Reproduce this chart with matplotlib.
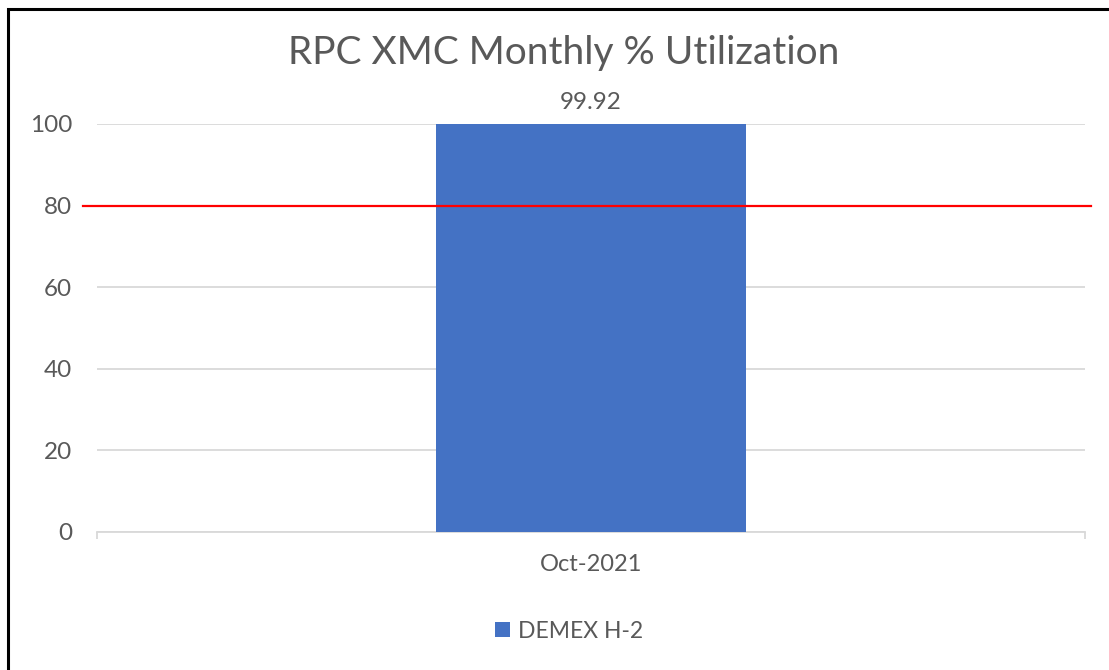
import matplotlib.pyplot as plt
from matplotlib.patches import Rectangle

# chart data
months = ["Oct-2021"]
utilization = [99.92]
series_name = "DEMEX H-2"
target = 80
y_ticks = [0, 20, 40, 60, 80, 100]

plt.rcParams['font.family'] = ['Lato', 'DejaVu Sans']
text_color = "#595959"

fig = plt.figure(figsize=(11.09, 6.70), dpi=100)
ax = fig.add_axes([0.0875, 0.206, 0.891, 0.609])

x = list(range(len(months)))
bars = ax.bar(x, utilization, width=0.314, color="#4472C4", label=series_name, zorder=3)

# value labels above bars
for xi, v in zip(x, utilization):
    ax.annotate(f"{v:.2f}", (xi, v), xytext=(0, 8), textcoords="offset points",
                ha="center", va="bottom", fontsize=17.5, color=text_color)

# target line, a bit wider than the plot area
ax.axhline(target, xmin=-0.014, xmax=1.006, color="red", linewidth=1.6,
           clip_on=False, zorder=4)

ax.set_xlim(-0.5, len(months) - 0.5)
ax.set_ylim(0, 100)
ax.set_yticks(y_ticks)
ax.grid(axis="y", color="#D9D9D9", linewidth=1.3, zorder=0)

# category boundary ticks, label in the middle
ax.set_xticks([-0.5, len(months) - 0.5])
ax.set_xticklabels([])
ax.tick_params(axis="x", which="major", length=5, color="#D9D9D9", width=1.3)
ax.set_xticks(x, minor=True)
ax.set_xticklabels(months, minor=True)
ax.tick_params(axis="x", which="minor", length=0, pad=16, labelsize=17, labelcolor=text_color)
ax.tick_params(axis="y", length=0, pad=18, labelsize=17.5, labelcolor=text_color)

for side in ["top", "right", "left"]:
    ax.spines[side].set_visible(False)
ax.spines["bottom"].set_color("#D9D9D9")
ax.spines["bottom"].set_linewidth(1.3)

fig.text(0.508, 0.921, "RPC XMC Monthly % Utilization", ha="center", va="center",
         fontsize=28, color=text_color)

leg = fig.legend(loc="center", bbox_to_anchor=(0.513, 0.058), frameon=False,
                 fontsize=16.5, handlelength=0.65, handleheight=0.65, handletextpad=0.35)
for t in leg.get_texts():
    t.set_color(text_color)

# outer frame (only left and top visible in reference)
fig.patches.append(Rectangle((8 / 1109, -0.05), 1.2, 1 - 9 / 670 + 0.05,
                             transform=fig.transFigure, fill=False,
                             edgecolor="black", linewidth=2.2))

fig.savefig("out.png", dpi=100)
